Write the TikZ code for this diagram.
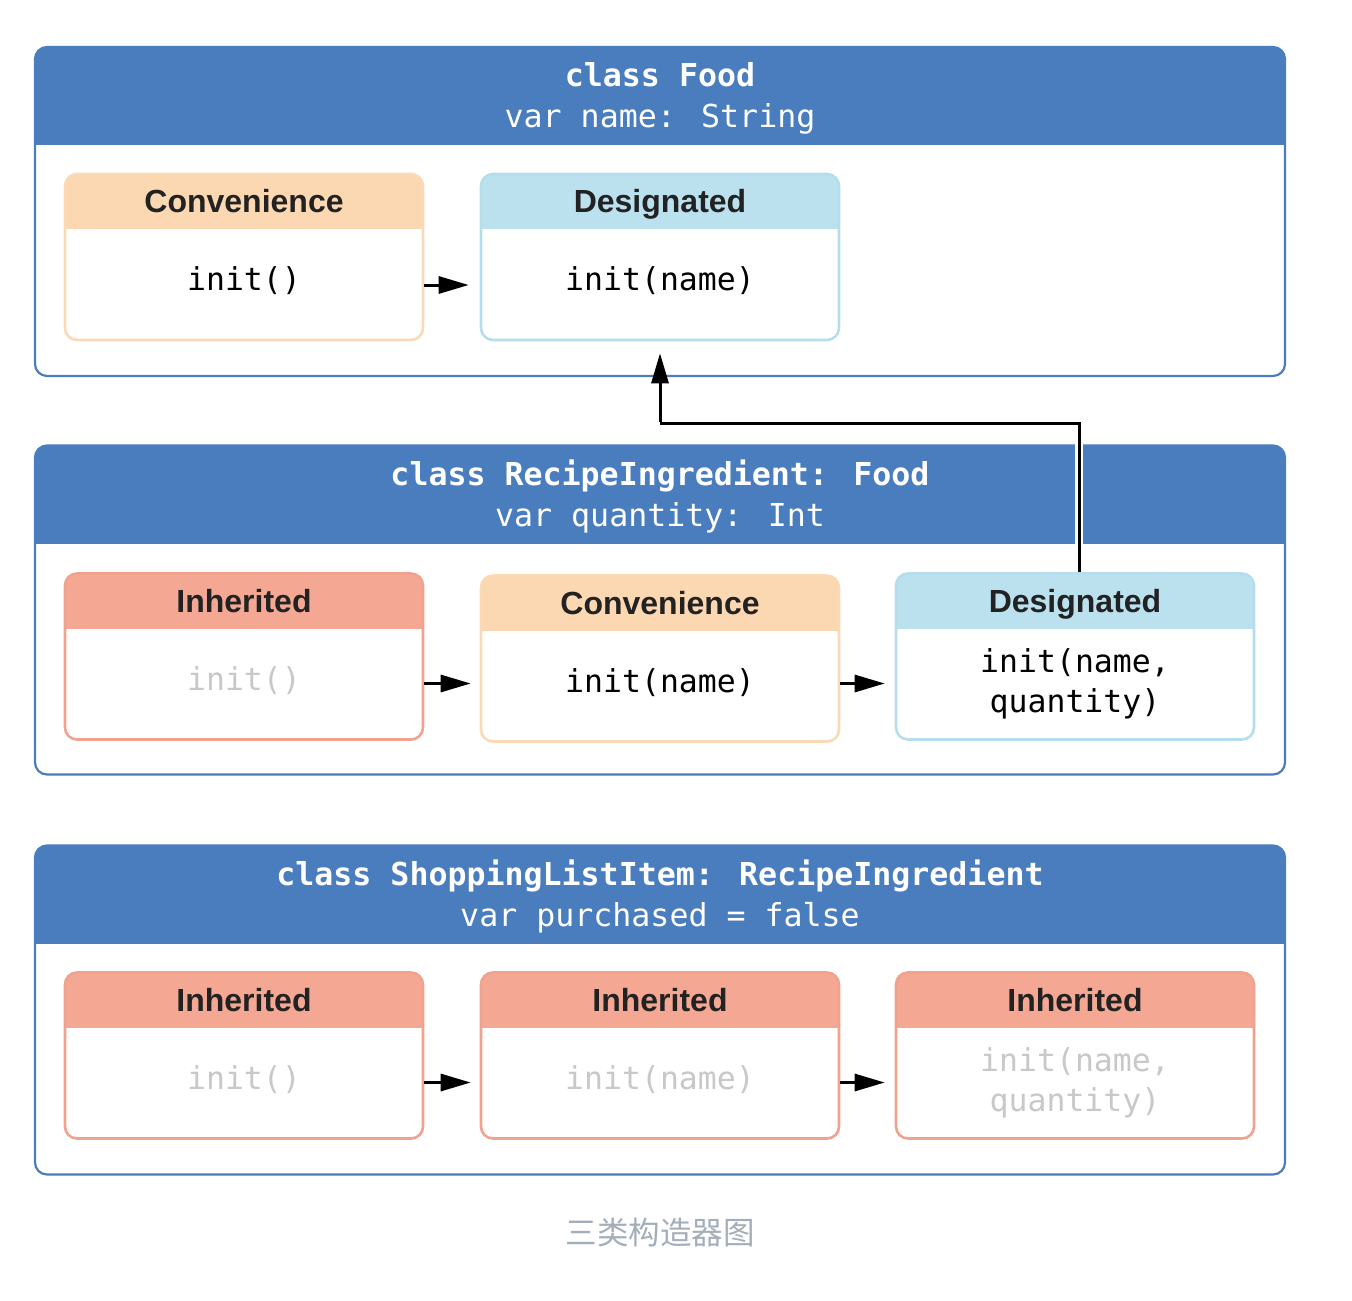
\documentclass[tikz,border=0pt]{standalone}
\usepackage{fontspec}
\setmainfont{Liberation Sans}
\newfontfamily\monof{DejaVu Sans Mono}
\newfontfamily\cjkf{Noto Sans CJK SC}
\usetikzlibrary{arrows.meta,calc}
\definecolor{hblue}{HTML}{4A7DBE}
\definecolor{conhead}{HTML}{FCD8B2}
\definecolor{conline}{HTML}{FAD9B6}
\definecolor{deshead}{HTML}{BBE1EF}
\definecolor{desline}{HTML}{B6DDEC}
\definecolor{inhhead}{HTML}{F4A893}
\definecolor{inhline}{HTML}{F0A28E}
\definecolor{ghost}{HTML}{C8C8C8}
\definecolor{labtext}{HTML}{222222}
\definecolor{capgray}{HTML}{A3AEBA}
\tikzset{
  outerbox/.style={draw=hblue, line width=1.1pt, rounded corners=6pt,
    minimum width=625pt, minimum height=164.5pt, inner sep=0pt,
    path picture={\fill[hblue, sharp corners] (path picture bounding box.north west) rectangle ([yshift=-49pt]path picture bounding box.north east);}},
  ibox/.style 2 args={draw=#2, fill=white, line width=1.3pt, rounded corners=6pt,
    minimum width=179pt, minimum height=83pt, inner sep=0pt,
    path picture={\fill[#1, sharp corners] (path picture bounding box.north west) rectangle ([yshift=-27.5pt]path picture bounding box.north east);}},
  htext/.style={font=\monof\fontsize{15.8}{20.5}\selectfont, text=white, align=center, inner sep=0pt},
  ilabel/.style={font=\bfseries\fontsize{16}{19}\selectfont, text=labtext, inner sep=0pt, anchor=base},
  ibody/.style={font=\monof\fontsize{15.75}{20}\selectfont, text=black, align=center, inner sep=0pt},
  ighost/.style={ibody, text=ghost},
  arr/.style={line width=1.5pt, -{Triangle[length=15pt,width=8.5pt]}},
}
\begin{document}
\begin{tikzpicture}[x=0.5pt,y=-0.5pt]
\useasboundingbox (0,0) rectangle (1352,1300);

% ---------- class Food ----------
\node[outerbox] (food) at (660,211.5) {};
\node[htext] (foodt) at ($(food.north)+(0,52)$) {\textbf{class Food}\\var name: String};

\node[ibox={conhead}{conline}] (fc) at (244,257) {};
\node[ilabel] (fcl) at ($(fc.north)+(0,40)$) {Convenience};
\node[ibody, anchor=base] (fcb) at ($(fc.north)+(0,118)$) {init()};

\node[ibox={deshead}{desline}] (fd) at (660,257) {};
\node[ilabel] (fdl) at ($(fd.north)+(0,40)$) {Designated};
\node[ibody, anchor=base] (fdb) at ($(fd.north)+(0,118)$) {init(name)};

% ---------- class RecipeIngredient ----------
\node[outerbox] (ri) at (660,610) {};
\node[htext] (rit) at ($(ri.north)+(0,52)$) {\textbf{class RecipeIngredient: Food}\\var quantity: Int};

\node[ibox={inhhead}{inhline}] (ra) at (244,656.5) {};
\node[ilabel] (ral) at ($(ra.north)+(0,40)$) {Inherited};
\node[ighost, anchor=base] (rab) at ($(ra.north)+(0,118)$) {init()};

\node[ibox={conhead}{conline}] (rc) at (660,658.5) {};
\node[ilabel] (rcl) at ($(rc.north)+(0,40)$) {Convenience};
\node[ibody, anchor=base] (rcb) at ($(rc.north)+(0,118)$) {init(name)};

\node[ibox={deshead}{desline}] (rd) at (1075,656.5) {};
\node[ilabel] (rdl) at ($(rd.north)+(0,40)$) {Designated};
\node[ibody] (rdb) at ($(rd.north)+(0,112)$) {init(name,\\quantity)};

% ---------- class ShoppingListItem ----------
\node[outerbox] (sl) at (660,1010) {};
\node[htext] (slt) at ($(sl.north)+(0,52)$) {\textbf{class ShoppingListItem: RecipeIngredient}\\var purchased = false};

\node[ibox={inhhead}{inhline}] (sa) at (244,1055.5) {};
\node[ilabel] (sal) at ($(sa.north)+(0,40)$) {Inherited};
\node[ighost, anchor=base] (sab) at ($(sa.north)+(0,118)$) {init()};

\node[ibox={inhhead}{inhline}] (sb) at (660,1055.5) {};
\node[ilabel] (sbl) at ($(sb.north)+(0,40)$) {Inherited};
\node[ighost, anchor=base] (sbb) at ($(sb.north)+(0,118)$) {init(name)};

\node[ibox={inhhead}{inhline}] (sc) at (1075,1055.5) {};
\node[ilabel] (scl) at ($(sc.north)+(0,40)$) {Inherited};
\node[ighost] (scb) at ($(sc.north)+(0,112)$) {init(name,\\quantity)};

% ---------- connectors ----------
\draw[arr] ([yshift=-14pt]fc.east) -- ([yshift=-14pt,xshift=-5.5pt]fd.west);
\draw[arr] ([yshift=-13.5pt]ra.east) -- ([yshift=-13.5pt,xshift=-4.5pt]rc.west |- ra.east);
\draw[arr] ([yshift=-13.5pt]rc.east |- rd.east) -- ([yshift=-13.5pt,xshift=-5pt]rd.west);
\draw[arr] ([yshift=-13.5pt]sa.east) -- ([yshift=-13.5pt,xshift=-4.5pt]sb.west);
\draw[arr] ([yshift=-13.5pt]sb.east) -- ([yshift=-13.5pt,xshift=-5pt]sc.west);

\coordinate (bend) at (0,423);
\draw[white, line width=4pt] ([xshift=2pt]rd.north) -- ([xshift=2pt,yshift=1pt]rd.north |- ri.north);
\draw[line width=1.5pt] ([xshift=2pt]rd.north) -- ([xshift=2pt]rd.north |- bend) -- (fd.south |- bend);
\draw[arr] ([yshift=0.75pt]fd.south |- bend) -- ([yshift=-6pt]fd.south);

% ---------- caption ----------
\node[font=\cjkf\fontsize{15.75}{18}\selectfont, text=capgray, inner sep=0pt] (cap) at (660,1233) {三类构造器图};
\end{tikzpicture}
\end{document}
